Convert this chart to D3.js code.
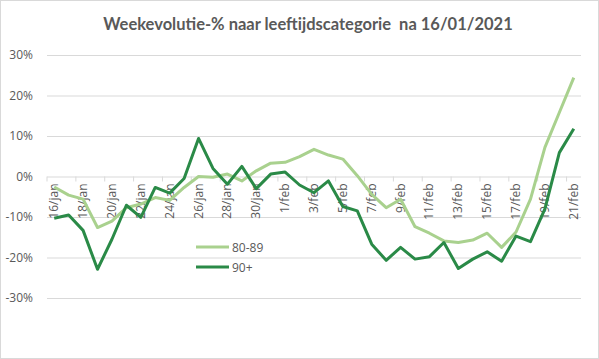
<!DOCTYPE html>
<html><head><meta charset="utf-8">
<script src="https://cdn.jsdelivr.net/npm/d3@7"></script>
<style>body{margin:0;background:#fff}svg{display:block}</style>
</head><body><svg id="c" width="599" height="359"></svg>
<script>
const categories = ["16/jan","17/jan","18/jan","19/jan","20/jan","21/jan","22/jan","23/jan","24/jan","25/jan","26/jan","27/jan","28/jan","29/jan","30/jan","31/jan",
"1/feb","2/feb","3/feb","4/feb","5/feb","6/feb","7/feb","8/feb","9/feb","10/feb","11/feb","12/feb","13/feb","14/feb","15/feb","16/feb","17/feb","18/feb","19/feb","20/feb","21/feb"];
const s8089 = [-2.6,-4.6,-5.6,-12.6,-11.0,-7.7,-6.8,-5.2,-5.9,-2.7,0.0,-0.2,0.6,-1.1,1.4,3.3,3.5,4.9,6.7,5.3,4.3,0.2,-4.4,-7.7,-5.6,-12.4,-14.0,-15.9,-16.3,-15.7,-14.0,-17.5,-13.7,-5.6,7.2,15.8,24.4];
const s90 = [-10.3,-9.5,-13.3,-22.9,-15.5,-7.1,-10.1,-2.7,-4.1,-0.5,9.4,2.0,-1.9,2.5,-3.0,0.6,1.1,-2.1,-4.0,-1.1,-7.4,-8.5,-16.7,-20.7,-17.5,-20.4,-19.8,-16.3,-22.7,-20.4,-18.6,-20.9,-14.7,-16.1,-8.0,5.9,11.8];
const yTicks = [-30,-20,-10,0,10,20,30];
const seriesNames = ["80-89","90+"];
const colors = ["#a9d18e","#2a8a47"];

(function(){
const svg = d3.select("#c");
svg.append("rect").attr("x",0.5).attr("y",0.5).attr("width",598).attr("height",358).attr("fill","#fff").attr("stroke","#d9d9d9");
const pl=47, pr=581, pt=55, pb=298;
const x = d3.scaleBand().domain(categories).range([pl,pr]).padding(0);
const y = d3.scaleLinear().domain([-30,30]).range([pb,pt]);
const txt="#595959";

svg.append("text").attr("x",308).attr("y",30).attr("text-anchor","middle").style("white-space","pre")
  .attr("font-family","Lato, 'Open Sans', sans-serif").attr("font-weight","bold").attr("font-size",16.5).attr("fill",txt)
  .text("Weekevolutie-% naar leeftijdscategorie  na 16/01/2021");

const ya = svg.append("g").attr("transform",`translate(${pl},0)`)
  .call(d3.axisLeft(y).tickValues(yTicks).tickSize(-(pr-pl)).tickPadding(14).tickFormat(d=>d+"%"));
ya.select(".domain").remove();
ya.selectAll("line").attr("stroke","#d9d9d9");
ya.selectAll("text").attr("fill",txt).attr("font-family","'Open Sans', sans-serif").attr("font-size",12);

const boundaries = d3.range(0,categories.length+1,2).map(i=>pl+i*x.bandwidth());
svg.selectAll(".tk").data(boundaries).join("line").attr("x1",d=>d).attr("x2",d=>d).attr("y1",y(0)).attr("y2",y(0)+5).attr("stroke","#d9d9d9");
svg.selectAll(".xl").data(categories.filter((d,i)=>i%2===0)).join("text")
  .attr("transform",d=>`translate(${x(d)+x.bandwidth()/2+4},${y(0)+7}) rotate(-90)`)
  .attr("text-anchor","end").attr("fill",txt).attr("font-family","'Open Sans', sans-serif").attr("font-size",12).text(d=>d);

const line = d3.line().x((d,i)=>x(categories[i])+x.bandwidth()/2).y(d=>y(d));
[s8089,s90].forEach((s,k)=>{
  svg.append("path").datum(s).attr("d",line).attr("fill","none").attr("stroke",colors[k]).attr("stroke-width",3).attr("stroke-linejoin","round");
});

const lg = svg.append("g");
seriesNames.forEach((n,k)=>{
  const ly = 247+20*k;
  lg.append("line").attr("x1",196).attr("x2",229).attr("y1",ly).attr("y2",ly).attr("stroke",colors[k]).attr("stroke-width",3);
  lg.append("text").attr("x",232).attr("y",ly+4.5).attr("fill",txt).attr("font-family","'Open Sans', sans-serif").attr("font-size",12).text(n);
});
})();
</script></body></html>
